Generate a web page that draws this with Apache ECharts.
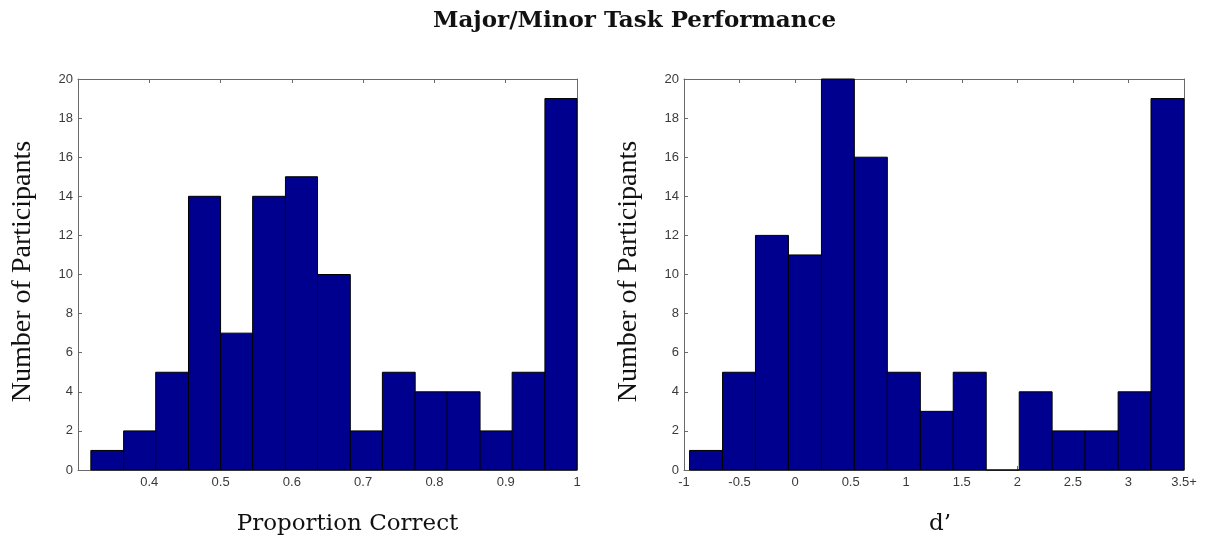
<!DOCTYPE html>
<html>
<head>
<meta charset="utf-8">
<title>Major/Minor Task Performance</title>
<script src="https://cdn.jsdelivr.net/npm/echarts@6/dist/echarts.min.js"></script>
<style>
  html, body { margin: 0; padding: 0; background: #fff; }
  #chart { width: 1210px; height: 541px; }
</style>
</head>
<body>
<div id="chart"></div>
<script>
// Histogram of proportion correct: bin edges and participant counts
const leftBinEdges = [0.318, 0.364, 0.409, 0.455, 0.5, 0.545, 0.591, 0.636, 0.682, 0.727, 0.773, 0.818, 0.864, 0.909, 0.955, 1.0];
const leftCounts = [1, 2, 5, 14, 7, 14, 15, 10, 2, 5, 4, 4, 2, 5, 19];

// Histogram of d' (last bin holds 3.5 and above)
const rightBinEdges = [-0.95, -0.653, -0.357, -0.06, 0.237, 0.533, 0.83, 1.127, 1.423, 1.72, 2.017, 2.313, 2.61, 2.907, 3.203, 3.5];
const rightCounts = [1, 5, 12, 11, 20, 16, 5, 3, 5, 0, 4, 2, 2, 4, 19];

// Axis ranges and tick labels
const leftXRange = [0.3, 1.0];
const rightXRange = [-1, 3.5];
const yRange = [0, 20];
const leftXTickLabels = ['', '0.4', '0.5', '0.6', '0.7', '0.8', '0.9', '1'];
const rightXTickLabels = ['-1', '-0.5', '0', '0.5', '1', '1.5', '2', '2.5', '3', '3.5+'];

const titleText = 'Major/Minor Task Performance';
const yName = 'Number of Participants';
const leftXName = 'Proportion Correct';
const rightXName = 'd\u2019';

function toBins(edges, counts) {
  return counts.map((c, i) => [edges[i], edges[i + 1], c]);
}

const tickFont = { fontFamily: 'Liberation Sans, Arial, sans-serif', fontSize: 13, color: '#3a3a3a' };
const frameLine = { show: true, onZero: false, lineStyle: { color: '#6a6a6a', width: 1 } };
const innerTick = { show: true, inside: true, length: 4, lineStyle: { color: '#6a6a6a', width: 1 } };

function xAxes(gridIndex, range, interval, labels, name, namePad) {
  const start = range[0];
  const fmt = v => {
    const idx = Math.round((v - start) / interval);
    return labels[idx] !== undefined ? labels[idx] : '';
  };
  return [
    {
      type: 'value', gridIndex, position: 'bottom', min: range[0], max: range[1], interval,
      axisLine: frameLine, axisTick: innerTick, splitLine: { show: false },
      axisLabel: Object.assign({ margin: 6, formatter: fmt, showMinLabel: true, showMaxLabel: true }, tickFont),
      name, nameLocation: 'middle', nameGap: 43,
      nameTextStyle: { fontFamily: 'DejaVu Serif, serif', fontSize: 23, color: '#111', padding: namePad }
    },
    {
      type: 'value', gridIndex, position: 'top', min: range[0], max: range[1], interval,
      axisLine: frameLine, axisTick: innerTick, splitLine: { show: false },
      axisLabel: { show: false }
    }
  ];
}

function yAxes(gridIndex) {
  return [
    {
      type: 'value', gridIndex, position: 'left', min: yRange[0], max: yRange[1], interval: 2,
      axisLine: frameLine, axisTick: innerTick, splitLine: { show: false },
      axisLabel: Object.assign({ margin: 5 }, tickFont),
      name: yName, nameLocation: 'middle', nameGap: 41, nameRotate: 90,
      nameTextStyle: { fontFamily: 'Liberation Serif, Times New Roman, serif', fontSize: 28, color: '#111', padding: [0, 0, 0, 6] }
    },
    {
      type: 'value', gridIndex, position: 'right', min: yRange[0], max: yRange[1], interval: 2,
      axisLine: frameLine, axisTick: innerTick, splitLine: { show: false },
      axisLabel: { show: false }
    }
  ];
}

function histSeries(xAxisIndex, yAxisIndex, data) {
  return {
    type: 'custom',
    xAxisIndex, yAxisIndex,
    data,
    clip: false,
    renderItem: function (params, api) {
      const top = api.coord([api.value(0), api.value(2)]);
      const base = api.coord([api.value(1), 0]);
      return {
        type: 'rect',
        shape: { x: top[0], y: top[1], width: base[0] - top[0], height: base[1] - top[1] },
        style: { fill: '#00008F', stroke: '#000000', lineWidth: 1 }
      };
    }
  };
}

const chart = echarts.init(document.getElementById('chart'), null, { renderer: 'canvas' });
chart.setOption({
  animation: false,
  backgroundColor: '#ffffff',
  title: {
    text: titleText, left: 428, top: 5,
    textStyle: { fontFamily: 'DejaVu Serif, serif', fontWeight: 'bold', fontSize: 23, color: '#111' }
  },
  grid: [
    { left: 78, top: 79, width: 499, height: 392 },
    { left: 684, top: 79, width: 500, height: 392 }
  ],
  xAxis: [
    ...xAxes(0, leftXRange, 0.1, leftXTickLabels, leftXName, [0, 0, 0, 40]),
    ...xAxes(1, rightXRange, 0.5, rightXTickLabels, rightXName, [0, 0, 0, 12])
  ],
  yAxis: [
    ...yAxes(0),
    ...yAxes(1)
  ],
  series: [
    histSeries(0, 0, toBins(leftBinEdges, leftCounts)),
    histSeries(2, 2, toBins(rightBinEdges, rightCounts))
  ]
});
</script>
</body>
</html>
